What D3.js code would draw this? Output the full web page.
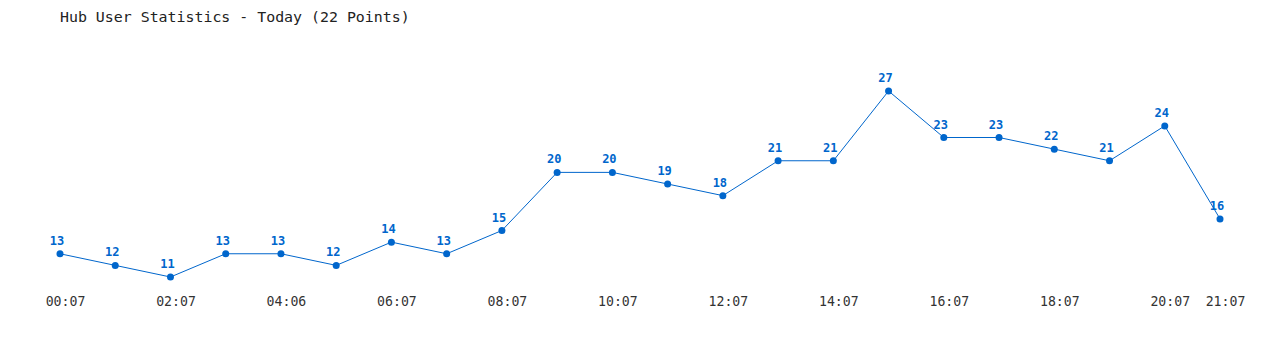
<!DOCTYPE html>
<html>
<head>
<meta charset="utf-8">
<script src="https://cdn.jsdelivr.net/npm/d3@7"></script>
<style>
  body { margin: 0; background: #fff; }
  svg { display: block; }
</style>
</head>
<body>
<svg id="chart" width="1280" height="350"></svg>
<script>
// data
const times = ['00:07', '01:07', '02:07', '03:07', '04:06', '05:07', '06:07', '07:07', '08:07', '09:07', '10:07',
               '11:07', '12:07', '13:07', '14:07', '15:07', '16:07', '17:07', '18:07', '19:07', '20:07', '21:07']
const users = [13, 12, 11, 13, 13, 12, 14, 13, 15, 20, 20, 19, 18, 21, 21, 27, 23, 23, 22, 21, 24, 16]
const shownTicks = ['00:07', '02:07', '04:06', '06:07', '08:07', '10:07', '12:07', '14:07', '16:07', '18:07', '20:07', '21:07']

const title = 'Hub User Statistics - Today (22 Points)'

let svg = d3.select('#chart')
let blue = '#0066cc'
let mono = '"DejaVu Sans Mono", "Liberation Mono", monospace'

// x is index based, evenly spaced points
let x = d3.scalePoint()
    .domain(times)
    .range([60, 1220])

let y = d3.scaleLinear()
    .domain([11, 27])
    .range([277, 91])

svg.append('text')
    .attr('x', 60)
    .attr('y', 22)
    .style('font-family', mono)
    .style('font-size', '14.9px')
    .style('fill', '#222')
    .text(title)

// bottom labels, no axis line
let xAxis = d3.axisBottom(x)
    .tickValues(shownTicks)
    .tickSize(0)
    .tickPadding(0)

let gx = svg.append('g')
    .attr('transform', 'translate(5,297)')
    .call(xAxis)
gx.select('.domain').remove()
gx.selectAll('text')
    .attr('dy', '0.71em')
    .style('font-family', mono)
    .style('font-size', '13.2px')
    .style('fill', '#333')

let line = d3.line()
    .x((d, i) => x(times[i]))
    .y(d => y(d))

svg.append('path')
    .datum(users)
    .attr('d', line)
    .style('fill', 'none')
    .style('stroke', blue)
    .attr('stroke-width', 1)

svg.selectAll('.dot')
    .data(users)
    .enter()
    .append('circle')
    .attr('class', 'dot')
    .attr('cx', (d, i) => x(times[i]))
    .attr('cy', d => y(d))
    .attr('r', 3.5)
    .style('fill', blue)

svg.selectAll('.val')
    .data(users)
    .enter()
    .append('text')
    .attr('class', 'val')
    .attr('x', (d, i) => x(times[i]) - 3)
    .attr('y', d => y(d) - 9)
    .attr('text-anchor', 'middle')
    .style('font-family', mono)
    .style('font-size', '12px')
    .style('font-weight', 'bold')
    .style('fill', blue)
    .text(d => d)
</script>
</body>
</html>
